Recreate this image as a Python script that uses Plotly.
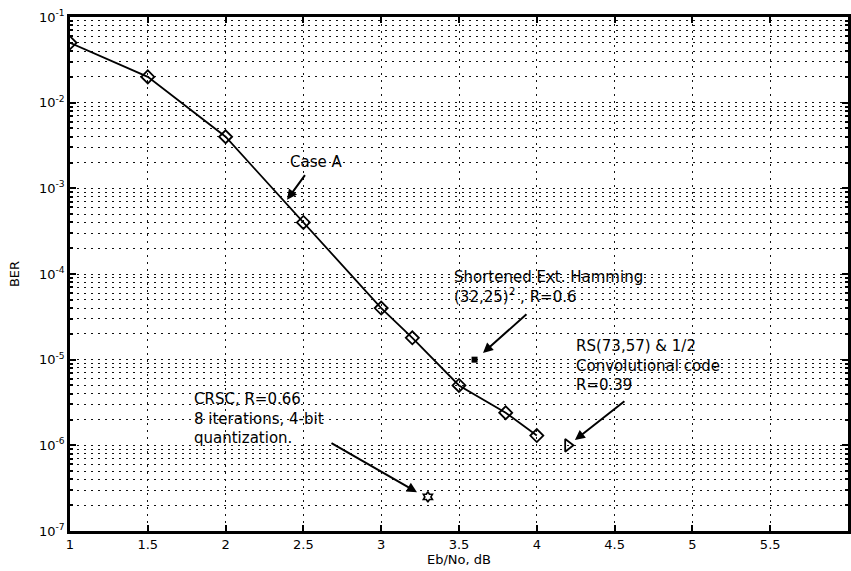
import plotly.graph_objects as go

# Data
ebno = [1.0, 1.5, 2.0, 2.5, 3.0, 3.2, 3.5, 3.8, 4.0]
ber_case_a = [0.05, 0.02, 0.004, 4e-4, 4e-5, 1.8e-5, 5e-6, 2.4e-6, 1.3e-6]
hamming_x = [3.6]
hamming_y = [1e-5]
rs_x = [4.2]
rs_y = [1e-6]
crsc_x = [3.3]
crsc_y = [2.5e-7]
xtick_vals = [1, 1.5, 2, 2.5, 3, 3.5, 4, 4.5, 5, 5.5, 6]
xtick_text = ["1", "1.5", "2", "2.5", "3", "3.5", "4", "4.5", "5", "5.5", "6"]
ytick_vals = [1e-7, 1e-6, 1e-5, 1e-4, 1e-3, 1e-2, 1e-1]
ytick_text = ["10<sup>-7</sup>", "10<sup>-6</sup>", "10<sup>-5</sup>", "10<sup>-4</sup>",
              "10<sup>-3</sup>", "10<sup>-2</sup>", "10<sup>-1</sup>"]

FONT = "DejaVu Sans, Arial, sans-serif"
GRID = "#111"
DASH = "2px,5px"

fig = go.Figure()
fig.add_trace(go.Scatter(x=ebno, y=ber_case_a, mode="lines+markers",
                         line=dict(color="black", width=1.8),
                         marker=dict(symbol="diamond-open", size=10, color="black",
                                     line=dict(width=1.8)),
                         showlegend=False))
fig.add_trace(go.Scatter(x=hamming_x, y=hamming_y, mode="markers",
                         marker=dict(symbol="square", size=6, color="black"),
                         showlegend=False))
fig.add_trace(go.Scatter(x=rs_x, y=rs_y, mode="markers",
                         marker=dict(symbol="triangle-right-open", size=11, color="black",
                                     line=dict(width=1.8)),
                         showlegend=False))
fig.add_trace(go.Scatter(x=crsc_x, y=crsc_y, mode="markers",
                         marker=dict(symbol="hexagram-open", size=8, color="black",
                                     line=dict(width=1.6)),
                         showlegend=False))

grid_kw = dict(showgrid=True, gridcolor=GRID, gridwidth=1.3, griddash=DASH)

fig.update_xaxes(range=[1, 6], tickvals=xtick_vals, ticktext=xtick_text,
                 ticks="inside", ticklen=6, tickcolor="black", tickwidth=1.5,
                 showline=True, linecolor="black", linewidth=2.5, mirror="allticks",
                 zeroline=False, automargin=False,
                 title=dict(text="Eb/No, dB", font=dict(family=FONT, size=13, color="black"),
                            standoff=2),
                 tickfont=dict(family=FONT, size=13, color="black"),
                 **grid_kw)
fig.update_yaxes(type="log", range=[-7, -1], tickvals=ytick_vals, ticktext=ytick_text,
                 ticks="inside", ticklen=6, tickcolor="black", tickwidth=1.5,
                 showline=True, linecolor="black", linewidth=2.5, mirror="allticks",
                 zeroline=False, automargin=False,
                 minor=dict(dtick="D1", ticks="inside", ticklen=3, tickcolor="black",
                            showgrid=True, gridcolor=GRID, gridwidth=1.3, griddash=DASH),
                 title=dict(text="BER", font=dict(family=FONT, size=13, color="black"),
                            standoff=17),
                 tickfont=dict(family=FONT, size=13, color="black"),
                 **grid_kw)

arrow_kw = dict(showarrow=True, arrowhead=2, arrowsize=1.0, arrowwidth=2,
                arrowcolor="black", axref="pixel", ayref="pixel", text="")
# arrows: head at data coords (log10 for y), tail offsets in pixels
fig.add_annotation(x=2.395, y=-3.132, ax=19, ay=-26, **arrow_kw)
fig.add_annotation(x=3.654, y=-4.922, ax=45, ay=-40, **arrow_kw)
fig.add_annotation(x=4.245, y=-5.939, ax=51, ay=-40, **arrow_kw)
fig.add_annotation(x=3.230, y=-6.547, ax=-87, ay=-50, **arrow_kw)

txt_font = dict(family=FONT, size=15, color="black")
fig.add_annotation(x=2.583, y=-2.69, text="Case A", showarrow=False,
                   xanchor="center", yanchor="middle", font=txt_font)
fig.add_annotation(x=3.455, y=-4.15, text="Shortened Ext. Hamming<br>(32,25)<sup>2</sup> , R=0.6",
                   showarrow=False, xanchor="left", yanchor="middle", align="left", font=txt_font)
fig.add_annotation(x=4.239, y=-5.073, text="RS(73,57) & 1/2<br>Convolutional code<br>R=0.39",
                   showarrow=False, xanchor="left", yanchor="middle", align="left", font=txt_font)
fig.add_annotation(x=1.784, y=-5.682, text="CRSC, R=0.66<br>8 iterations, 4-bit<br>quantization.",
                   showarrow=False, xanchor="left", yanchor="middle", align="left", font=txt_font)

fig.update_layout(width=851, height=571, margin=dict(l=70, r=3, t=17, b=40),
                  paper_bgcolor="white", plot_bgcolor="white",
                  font=dict(family=FONT, color="black"))
fig.write_html("out.html", config={"displayModeBar": False},
               post_script="document.body.style.margin='0';document.body.style.overflow='hidden';")
